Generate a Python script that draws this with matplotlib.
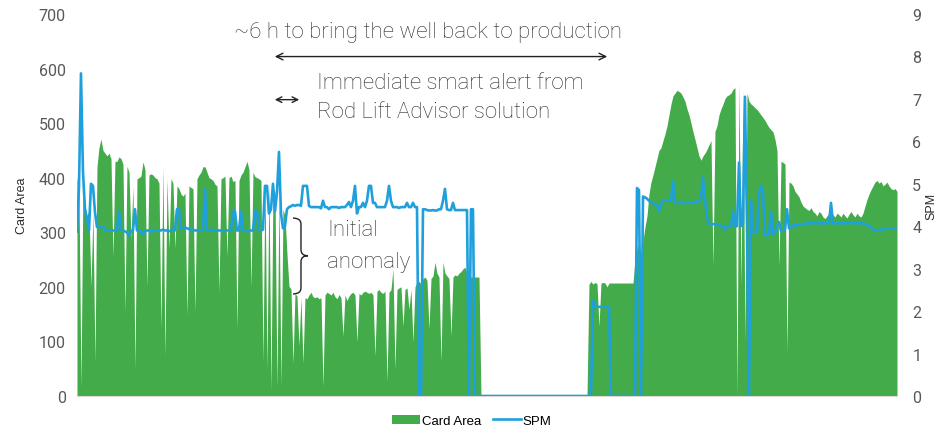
import numpy as np
import matplotlib.pyplot as plt
from matplotlib.patches import Patch, PathPatch
from matplotlib.lines import Line2D
from matplotlib.path import Path

# Card area readings (one sample every ~2 px of the original timeline)
card_area = [
    400, 380, 15, 395, 350, 330, 340, 200, 335, 62, 420, 455, 471, 450, 445, 440, 445, 435, 256, 430,
    430, 438, 435, 425, 154, 421, 410, 288, 385, 49, 398, 400, 403, 429, 415, 201, 405, 407, 405, 400,
    398, 390, 123, 420, 73, 398, 270, 398, 390, 270, 385, 380, 370, 366, 372, 147, 385, 382, 380, 154,
    398, 405, 410, 420, 420, 410, 400, 398, 395, 388, 385, 190, 398, 400, 403, 256, 400, 403, 393, 395,
    123, 395, 405, 410, 420, 430, 415, 200, 410, 402, 400, 398, 395, 62, 397, 49, 392, 10, 380, 374,
    15, 370, 20, 342, 330, 260, 201, 196, 60, 188, 183, 92, 180, 60, 180, 178, 185, 190, 182, 180,
    182, 178, 180, 18, 185, 190, 188, 185, 190, 182, 178, 186, 180, 110, 185, 175, 183, 188, 190, 185,
    99, 188, 185, 190, 192, 190, 188, 190, 185, 73, 192, 195, 190, 188, 192, 26, 190, 195, 233, 49,
    195, 198, 200, 128, 195, 198, 159, 195, 99, 200, 209, 210, 205, 215, 218, 212, 123, 215, 220, 245,
    225, 218, 62, 245, 225, 220, 215, 110, 218, 222, 220, 225, 228, 233, 236, 225, 218, 218, 218, 218,
    218, 218, 0, 0, 0, 0, 0, 0, 0, 0, 0, 0, 0, 0, 0, 0, 0, 0, 0, 0,
    0, 0, 0, 0, 0, 0, 0, 0, 0, 0, 0, 0, 0, 0, 0, 0, 0, 0, 0, 0,
    0, 0, 0, 0, 0, 0, 0, 0, 0, 0, 0, 0, 0, 0, 0, 0, 205, 210, 205, 208,
    206, 128, 207, 208, 207, 200, 207, 207, 207, 207, 207, 207, 207, 207, 207, 207, 207, 207, 207, 250,
    270, 280, 260, 285, 310, 330, 370, 392, 405, 420, 435, 450, 455, 468, 480, 495, 515, 535, 550, 555,
    560, 558, 555, 548, 540, 526, 515, 500, 484, 470, 455, 440, 432, 440, 445, 452, 460, 468, 240, 485,
    495, 515, 526, 535, 545, 550, 552, 555, 562, 565, 0, 575, 200, 560, 100, 555, 540, 535, 532, 528,
    525, 520, 515, 510, 505, 498, 492, 488, 484, 470, 450, 238, 430, 428, 425, 80, 392, 390, 385, 375,
    370, 365, 355, 348, 345, 342, 340, 345, 338, 335, 330, 338, 335, 328, 325, 330, 335, 338, 332, 328,
    335, 332, 328, 335, 330, 326, 333, 338, 332, 328, 335, 330, 328, 335, 348, 360, 370, 378, 385, 392,
    395, 390, 393, 385, 388, 392, 385, 380, 378, 380, 375,
]

# Strokes per minute, same sampling
spm = [
    3.87, 4.93, 7.6, 5.28, 4.4, 4.17, 3.9, 5.0, 4.95, 4.33, 3.98, 3.98, 3.98, 4.0, 3.92, 3.9, 3.9, 3.9, 3.9, 3.9,
    3.9, 4.35, 3.9, 3.9, 3.88, 3.85, 3.78, 3.88, 3.9, 4.4, 3.9, 3.9, 3.88, 3.8, 3.88, 3.9, 3.9, 3.88, 3.88, 3.9,
    3.9, 3.9, 3.9, 3.92, 3.9, 3.9, 3.88, 3.9, 3.92, 3.9, 4.4, 4.4, 3.95, 3.95, 3.97, 3.95, 3.93, 3.92, 3.92, 3.9,
    3.9, 3.9, 3.9, 3.92, 4.88, 3.92, 3.9, 3.9, 3.92, 3.9, 3.9, 3.9, 3.9, 3.88, 3.9, 3.9, 3.9, 3.9, 4.35, 4.35,
    3.9, 3.9, 4.35, 3.9, 3.9, 3.9, 3.88, 3.9, 3.9, 4.35, 4.35, 3.9, 3.9, 3.92, 4.95, 4.95, 4.3, 4.4, 5.0, 4.35,
    4.8, 5.75, 4.3, 3.95, 4.0, 4.4, 4.45, 4.47, 4.5, 4.48, 4.5, 4.5, 4.48, 4.95, 4.95, 4.95, 4.48, 4.45, 4.45, 4.45,
    4.45, 4.45, 4.42, 4.6, 4.45, 4.45, 4.4, 4.45, 4.45, 4.45, 4.45, 4.43, 4.45, 4.45, 4.45, 4.5, 4.57, 4.45, 4.6, 4.95,
    4.3, 4.45, 4.45, 4.55, 4.45, 4.6, 4.95, 4.95, 4.55, 4.55, 4.45, 4.45, 4.45, 4.45, 4.45, 4.6, 4.95, 4.6, 4.45, 4.45,
    4.45, 4.43, 4.45, 4.45, 4.45, 4.55, 4.45, 4.45, 4.55, 4.45, 4.45, 0, 0, 4.4, 4.4, 4.38, 4.37, 4.37, 4.38, 4.37,
    4.37, 4.4, 4.4, 4.6, 4.88, 4.4, 4.38, 4.38, 4.55, 4.38, 4.38, 4.38, 4.38, 4.38, 4.38, 4.38, 0, 4.4, 4.4, 0,
    0, 0, 0, 0, 0, 0, 0, 0, 0, 0, 0, 0, 0, 0, 0, 0, 0, 0, 0, 0,
    0, 0, 0, 0, 0, 0, 0, 0, 0, 0, 0, 0, 0, 0, 0, 0, 0, 0, 0, 0,
    0, 0, 0, 0, 0, 0, 0, 0, 0, 0, 0, 0, 0, 0, 0, 0, 0, 0, 2.25, 2.1,
    2.1, 2.1, 2.1, 2.1, 2.1, 2.1, 2.1, 0, 0, 0, 0, 0, 0, 0, 0, 0, 0, 0, 0, 0,
    4.9, 4.85, 0, 4.7, 4.68, 4.65, 4.6, 4.55, 4.55, 4.5, 4.5, 4.35, 4.5, 4.6, 4.6, 4.6, 4.6, 4.6, 5.07, 4.55,
    4.55, 4.55, 4.55, 4.55, 4.55, 4.55, 4.55, 4.55, 4.55, 4.57, 4.58, 4.6, 4.65, 5.15, 4.6, 4.2, 4.05, 4.05, 4.05, 4.05,
    4.03, 4.03, 4.0, 4.0, 3.92, 4.0, 4.0, 4.0, 4.35, 4.0, 4.0, 5.5, 4.0, 4.05, 7.05, 4.0, 0, 4.6, 3.85, 3.85,
    3.85, 4.8, 4.95, 4.8, 3.8, 3.78, 3.8, 4.35, 3.82, 3.85, 4.0, 4.1, 3.88, 3.9, 3.92, 4.4, 3.95, 4.0, 4.02, 4.02,
    4.02, 4.03, 4.05, 4.05, 4.05, 4.07, 4.07, 4.08, 4.07, 4.07, 4.07, 4.07, 4.07, 4.07, 4.07, 4.07, 4.07, 4.55, 4.07, 4.07,
    4.07, 4.07, 4.07, 4.07, 4.07, 4.07, 4.07, 4.08, 4.08, 4.07, 4.07, 4.07, 4.07, 4.07, 4.05, 4.03, 4.0, 3.97, 3.93, 3.9,
    3.9, 3.9, 3.92, 3.93, 3.95, 3.95, 3.95, 3.95, 3.95, 3.95, 3.95,
]

card_ticks = [0, 100, 200, 300, 400, 500, 600, 700]
spm_ticks = [0, 1, 2, 3, 4, 5, 6, 7, 8, 9]

GREEN = "#43ab49"
BLUE = "#1fa0dc"
TEXT = "#2b2b2b"
TICK = "#595959"

x = np.arange(len(card_area))

fig = plt.figure(figsize=(9.48, 4.27), dpi=100)
ax = fig.add_axes([0.0812, 0.0703, 0.865, 0.8946])
ax2 = ax.twinx()

ax.fill_between(x, card_area, 0, color=GREEN, lw=0)
ax2.plot(x, spm, color=BLUE, lw=1.9)

ax.set_xlim(0, len(card_area) - 1)
ax.set_ylim(0, 700)
ax2.set_ylim(0, 9)
ax.set_yticks(card_ticks)
ax2.set_yticks(spm_ticks)
ax.set_xticks([])

for a in (ax, ax2):
    for s in a.spines.values():
        s.set_visible(False)
    a.tick_params(length=0, labelsize=11.5, labelcolor=TICK)
    for lab in a.get_yticklabels():
        lab.set_family("Roboto")
ax.tick_params(pad=8)
ax2.tick_params(pad=11)
ax.spines["bottom"].set_visible(True)
ax.spines["bottom"].set_color("#d9d9d9")

ax.set_ylabel("Card Area", fontsize=9, color=TEXT, family="Liberation Sans", labelpad=8)
ax2.set_ylabel("SPM", fontsize=9, color=TEXT, family="Liberation Sans", labelpad=3)

# annotations
ANN = dict(color=TEXT, family="Roboto", fontweight="light", fontsize=16)
ax.annotate("", xy=(266.5, 622), xytext=(97.5, 622),
            arrowprops=dict(arrowstyle="<->", color="#222222", lw=1, mutation_scale=12))
ax.text(175.5, 668, "~6 h to bring the well back to production", ha="center", va="center", **ANN)
ax.annotate("", xy=(112.5, 543), xytext=(97.5, 543),
            arrowprops=dict(arrowstyle="<->", color="#222222", lw=1, mutation_scale=10))
ax.text(120, 575, "Immediate smart alert from", ha="left", va="center", **ANN)
ax.text(120, 521, "Rod Lift Advisor solution", ha="left", va="center", **ANN)
ax.text(125, 305, "Initial", ha="left", va="center", **ANN)
ax.text(125, 246, "anomaly", ha="left", va="center", **ANN)

brace = Path(
    [(108, 326), (112, 326), (112, 315), (112, 268), (112, 257), (115.5, 257),
     (112, 257), (112, 246), (112, 198), (112, 187), (108, 187)],
    [Path.MOVETO, Path.CURVE3, Path.CURVE3, Path.LINETO, Path.CURVE3, Path.CURVE3,
     Path.CURVE3, Path.CURVE3, Path.LINETO, Path.CURVE3, Path.CURVE3],
)
ax.add_patch(PathPatch(brace, fill=False, edgecolor="#222222", lw=1))

handles = [Patch(facecolor=GREEN, edgecolor="none"), Line2D([], [], color=BLUE, lw=1.9)]
fig.legend(handles, ["Card Area", "SPM"], loc="lower center", bbox_to_anchor=(0.498, -0.03),
           ncol=2, frameon=False, handlelength=2.1, handletextpad=0.15,
           columnspacing=0.9, prop={"family": "Liberation Sans", "size": 9.5})

fig.savefig("out.png", dpi=100)
